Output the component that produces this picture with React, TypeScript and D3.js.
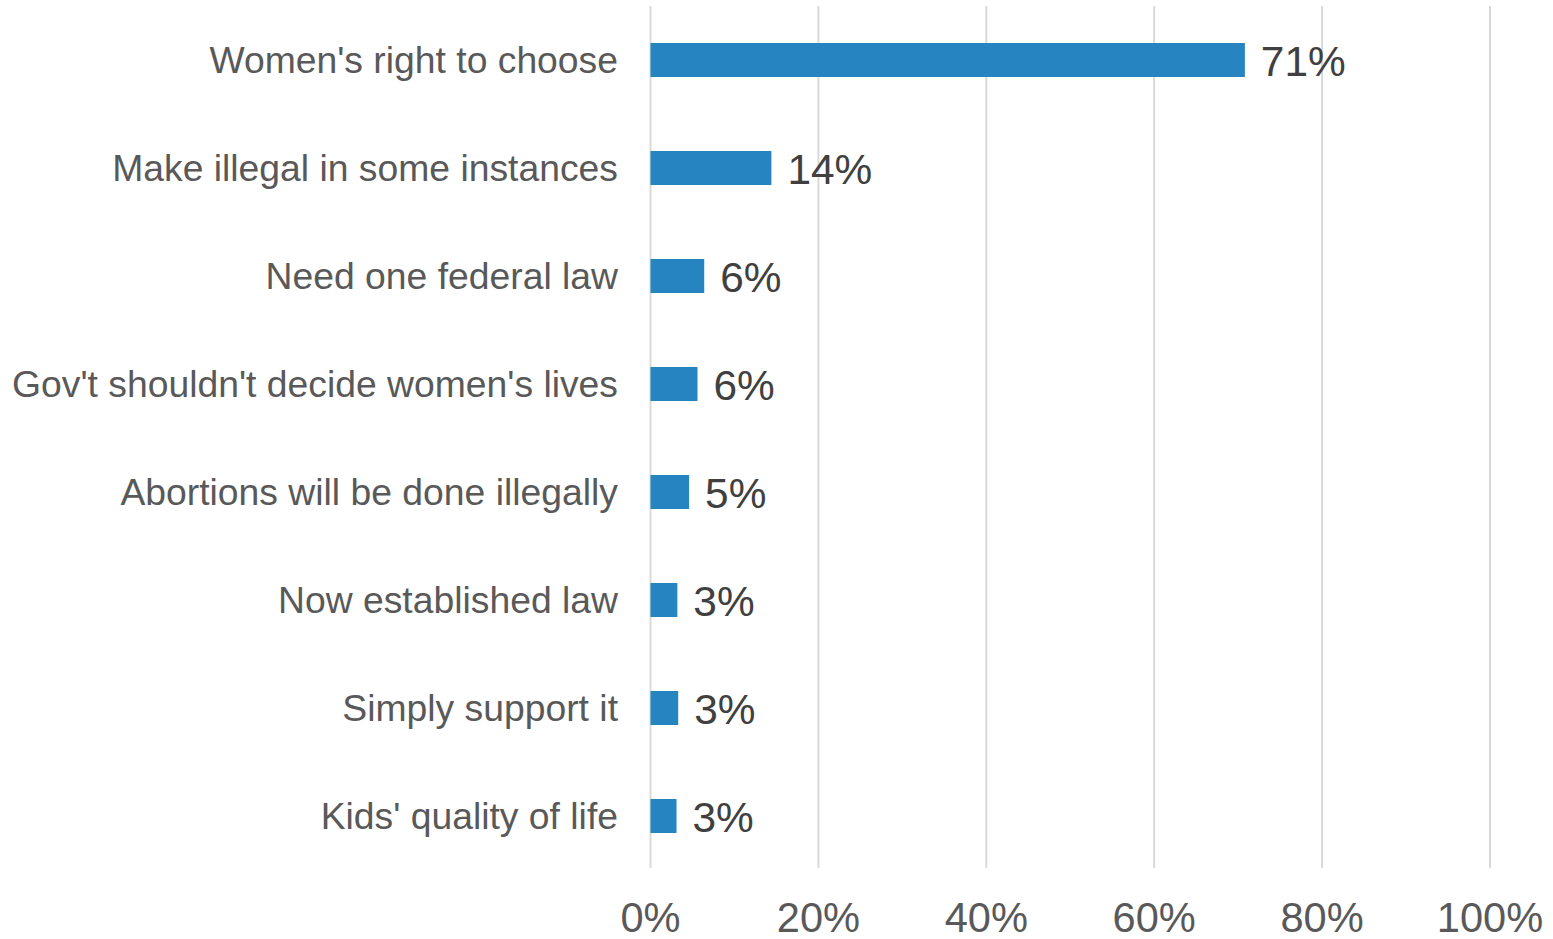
import React from "react";
import * as d3 from "d3";

const categories = [
  "Women's right to choose",
  "Make illegal in some instances",
  "Need one federal law",
  "Gov't shouldn't decide women's lives",
  "Abortions will be done illegally",
  "Now established law",
  "Simply support it",
  "Kids' quality of life",
];
const values = [70.8, 14.4, 6.4, 5.6, 4.6, 3.2, 3.3, 3.1];
const ticks = [0, 20, 40, 60, 80, 100];

const W = 1553;
const H = 939;
const FONT = "Liberation Sans, Arial, Helvetica, sans-serif";

export default function App() {
  const x = d3.scaleLinear().domain([0, 100]).range([650.5, 1490]);
  const y = d3.scaleBand<string>().domain(categories).range([6, 870]).padding(0);
  const barH = 34;
  return (
    <svg
      width={W}
      height={H}
      style={{ position: "absolute", left: 0, top: 0, background: "#fff" }}
      fontFamily={FONT}
    >
      {ticks.map((t) => (
        <line
          key={"g" + t}
          x1={x(t)}
          x2={x(t)}
          y1={6}
          y2={868}
          stroke="#d9d9d9"
          strokeWidth={2}
        />
      ))}
      {categories.map((c, i) => {
        const cy = (y(c) as number) + y.bandwidth() / 2;
        return (
          <g key={c}>
            <rect
              x={x(0)}
              y={cy - barH / 2}
              width={x(values[i]) - x(0)}
              height={barH}
              fill="#2684C1"
            />
            <text
              x={618}
              y={cy}
              dy="0.35em"
              textAnchor="end"
              fontSize={37.3}
              fill="#595959"
            >
              {c}
            </text>
            <text
              x={x(values[i]) + 16}
              y={cy + 1}
              dy="0.36em"
              fontSize={42.4}
              fill="#404040"
            >
              {Math.round(values[i]) + "%"}
            </text>
          </g>
        );
      })}
      {ticks.map((t) => (
        <text
          key={"t" + t}
          x={x(t)}
          y={932}
          textAnchor="middle"
          fontSize={41.6}
          fill="#595959"
        >
          {t + "%"}
        </text>
      ))}
    </svg>
  );
}
